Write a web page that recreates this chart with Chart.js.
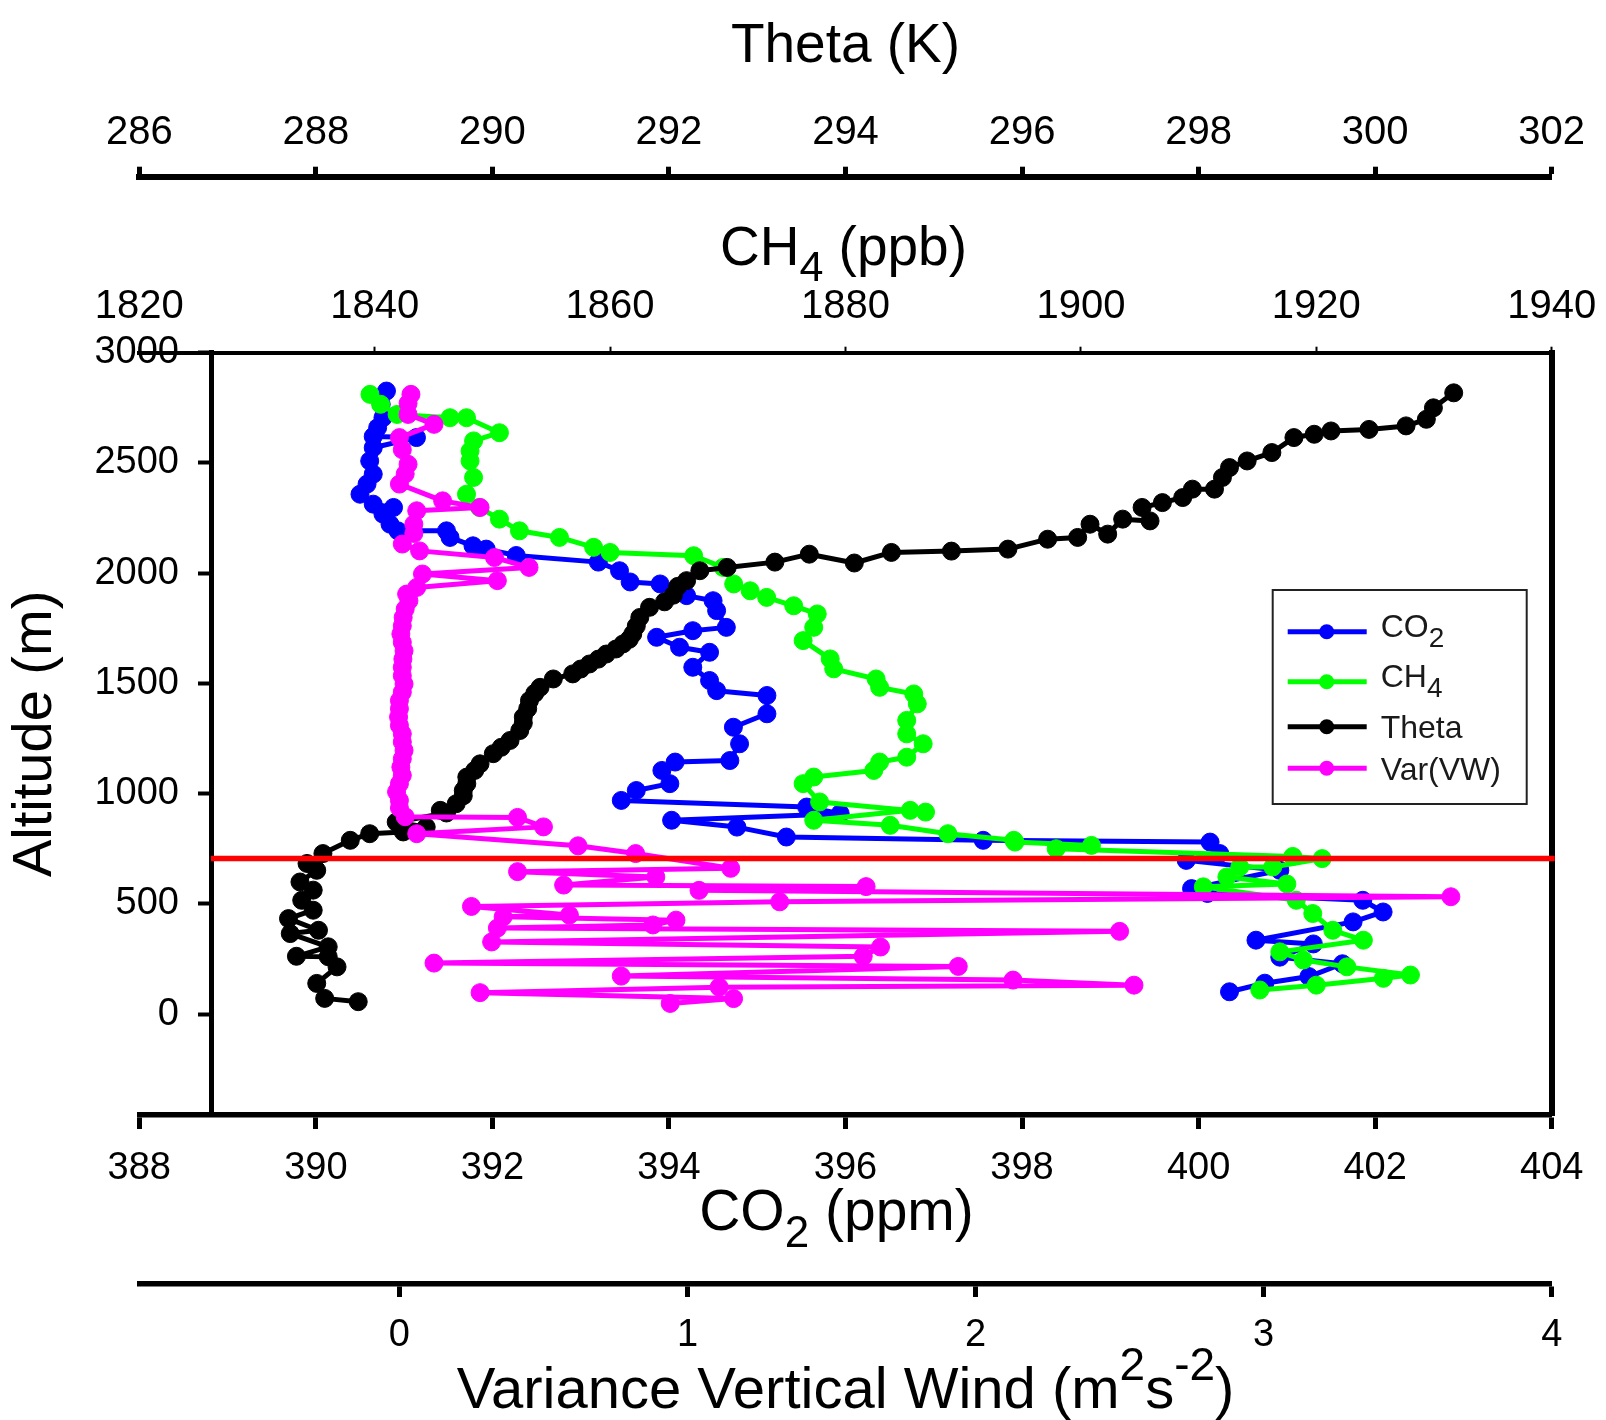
<!DOCTYPE html>
<html><head><meta charset="utf-8">
<script src="https://cdn.jsdelivr.net/npm/chart.js@4.4.1/dist/chart.umd.min.js"></script>
<style>html,body{margin:0;padding:0;background:#fff}canvas{display:block}</style>
</head><body>
<canvas id="c" width="1606" height="1420"></canvas>
<script>
// ---------------- data ----------------
const CO2_PPM = [400.35,400.75,401.25,401.63,400.92,401.30,400.65,401.75,402.09,401.86,400.10,399.92,400.92,399.86,400.24,400.13,397.56,395.33,394.77,394.03,395.94,395.56,393.46,393.63,394.01,393.92,394.07,394.69,394.80,394.73,395.11,395.11,394.54,394.46,394.27,394.46,394.12,393.86,394.27,394.65,394.54,394.50,394.20,393.90,393.56,393.44,393.20,392.27,391.93,391.78,391.52,391.48,390.93,390.84,390.76,390.88,390.65,390.50,390.58,390.65,390.61,390.65,391.14,390.65,390.70,390.76,390.74,390.80];
const CO2_ALT = [101,140,170,228,258,318,335,418,463,516,547,569,652,697,728,780,788,803,848,879,909,939,969,1014,1045,1105,1143,1150,1226,1301,1362,1445,1467,1513,1573,1641,1664,1709,1739,1754,1830,1875,1898,1951,1960,2011,2050,2080,2109,2124,2162,2192,2192,2222,2268,2298,2313,2358,2404,2449,2509,2569,2615,2620,2660,2705,2766,2826];

const CH4_PPB = [1915.2,1920.0,1925.7,1928.0,1922.6,1918.9,1916.9,1924.0,1921.4,1919.7,1918.3,1910.4,1917.5,1912.4,1913.5,1916.3,1920.5,1918.0,1897.9,1900.9,1894.4,1894.3,1888.7,1883.8,1877.3,1885.5,1886.8,1877.8,1876.4,1877.3,1882.4,1882.9,1885.2,1886.6,1885.2,1885.2,1886.1,1885.8,1882.9,1882.6,1879.0,1878.7,1876.4,1877.3,1877.6,1875.6,1873.3,1871.9,1870.5,1869.6,1867.1,1860.0,1858.6,1855.7,1852.3,1850.6,1848.9,1847.8,1848.4,1848.1,1848.1,1848.4,1850.6,1847.8,1846.4,1841.9,1840.5,1839.6];
const CH4_ALT = [109,131,162,177,214,245,282,335,380,456,516,577,590,622,667,667,705,715,750,765,780,788,818,856,879,924,916,962,1045,1075,1105,1143,1165,1226,1271,1332,1407,1452,1482,1520,1566,1611,1694,1754,1815,1852,1890,1920,1951,2026,2079,2094,2117,2162,2192,2245,2298,2358,2434,2509,2554,2600,2637,2705,2705,2720,2766,2811];

const THETA_K = [288.48,288.10,288.01,288.24,288.14,287.78,288.14,287.71,288.03,287.69,287.97,287.84,287.97,287.82,288.01,287.90,288.08,288.39,288.61,288.99,289.25,288.91,289.48,289.41,289.59,289.67,289.67,289.71,289.71,289.80,289.86,290.01,290.10,290.20,290.31,290.35,290.35,290.40,290.42,290.48,290.54,290.69,290.91,291.00,291.10,291.20,291.29,291.40,291.48,291.55,291.59,291.63,291.67,291.78,291.95,292.05,292.10,292.20,292.35,292.66,293.20,293.59,294.10,294.52,295.20,295.84,296.29,296.63,296.77,296.97,297.14,297.45,297.36,297.59,297.82,297.93,298.18,298.27,298.35,298.55,298.83,299.08,299.31,299.50,299.93,300.35,300.58,300.66,300.89];
const THETA_ALT = [56,71,139,214,260,262,305,365,380,433,471,516,562,599,652,683,728,788,818,826,848,871,912,924,954,990,1014,1045,1075,1105,1135,1181,1210,1241,1286,1320,1347,1385,1422,1455,1482,1520,1543,1565,1588,1610,1633,1656,1679,1700,1724,1760,1799,1845,1870,1900,1940,1966,2011,2026,2050,2086,2046,2094,2100,2109,2154,2162,2222,2177,2245,2237,2298,2320,2343,2381,2381,2434,2479,2509,2547,2615,2630,2645,2652,2668,2698,2750,2818];

const VAR_W = [0.94,1.16,0.28,1.11,2.55,2.13,0.77,1.94,0.12,1.61,1.67,0.32,2.50,0.34,0.88,0.96,0.36,0.59,0.25,1.32,3.65,1.04,1.62,0.57,0.89,0.41,1.15,0.82,0.62,0.06,0.50,0.41,0.02,
  0.00,0.00,-0.01,0.00,0.01,0.005,0.01,0.016,0.01,0.01,0.0,-0.003,0.0,0.0,0.01,0.016,0.01,0.01,0.012,0.016,0.01,0.005,0.01,0.013,0.02,0.033,
  0.025,0.06,0.34,0.08,0.45,0.33,0.07,0.01,0.05,0.05,0.06,0.28,0.15,0.0,0.02,0.03,0.01,0.0,0.12,0.03,0.03,0.04];
const VAR_ALT = [48,70,97,122,131,154,172,216,231,262,304,327,375,390,404,426,441,449,488,509,532,561,578,585,622,646,661,728,763,818,849,892,895,
  935,969,1008,1045,1083,1120,1158,1196,1234,1271,1309,1347,1385,1422,1460,1497,1535,1573,1610,1648,1686,1724,1761,1799,1837,1875,
  1905,1935,1966,1996,2026,2071,2101,2132,2180,2222,2283,2298,2328,2404,2450,2494,2560,2615,2675,2720,2770,2811];

const BOUNDARY_ALT = 705;

const CO2_TICKS = [388,390,392,394,396,398,400,402,404];
const CH4_TICKS = [1820,1840,1860,1880,1900,1920,1940];
const THETA_TICKS = [286,288,290,292,294,296,298,300,302];
const VAR_TICKS = [0,1,2,3,4];
const ALT_TICKS = [0,500,1000,1500,2000,2500,3000];

const CO2_RANGE = [388, 404];
const CH4_RANGE = [1820, 1940];
const THETA_RANGE = [286, 302];
const VAR_RANGE = [-0.903, 4];
const ALT_RANGE = [-458, 3000];

const SERIES_LABELS = ['CO2', 'CH4', 'Theta', 'Var(VW)'];
const LEGEND_MAIN = ['CO', 'CH', 'Theta', 'Var(VW)'];
const LEGEND_SUB = ['2', '4', '', ''];

// ---------------- styling ----------------
const FONT = '"Liberation Sans", Arial, Helvetica, sans-serif';
const COLORS = ['#0000ff', '#00ff00', '#000000', '#ff00ff'];
const AXIS_LEFT = 139.3;

Chart.defaults.font.family = FONT;
Chart.defaults.color = '#000';

const pts = (xs, ys) => xs.map((x, i) => ({x: x, y: ys[i]}));
const fixedTicks = list => s => { s.ticks = list.map(v => ({value: v})); };

function hAxis(pos, weight, range, ticks, h, tickLen, tickW, borderW, fontSize, pad) {
  return {
    type: 'linear', position: pos, weight: weight, min: range[0], max: range[1],
    afterBuildTicks: fixedTicks(ticks),
    afterFit: s => { s.height = h; s.paddingLeft = 0; s.paddingRight = 0; },
    grid: { display: true, drawOnChartArea: false, drawTicks: true, tickLength: tickLen, tickWidth: tickW, tickColor: '#000', color: '#000' },
    border: { display: true, color: '#000', width: borderW },
    ticks: { color: '#000', font: { family: FONT, size: fontSize }, padding: pad, maxRotation: 0, minRotation: 0, autoSkip: false, callback: v => String(v) }
  };
}

function series(i, xs, ys, axis, order) {
  return {
    label: SERIES_LABELS[i], data: pts(xs, ys), xAxisID: axis, yAxisID: 'y',
    showLine: true, borderColor: COLORS[i], backgroundColor: COLORS[i],
    pointBackgroundColor: COLORS[i], pointBorderColor: COLORS[i],
    pointRadius: 9, pointBorderWidth: 1, borderWidth: 5, tension: 0,
    borderJoinStyle: 'round', borderCapStyle: 'round', order: order, clip: false
  };
}

function drawRich(ctx, parts, cx, baseline) {
  let total = 0;
  parts.forEach(p => { ctx.font = p.size + 'px ' + FONT; p.w = ctx.measureText(p.t).width; total += p.w; });
  let x = cx - total / 2;
  ctx.textAlign = 'left'; ctx.textBaseline = 'alphabetic';
  parts.forEach(p => { ctx.font = p.size + 'px ' + FONT; ctx.fillText(p.t, x, baseline + p.dy); x += p.w; });
}

const stretchAxes = {
  id: 'stretchAxes',
  afterLayout(chart) {
    ['x', 'xVar', 'xCH4', 'xTheta'].forEach(id => {
      const s = chart.scales[id];
      s.left = AXIS_LEFT;
      s.width = s.right - s.left;
      s.configure();
    });
  }
};

const boundaryLine = {
  id: 'boundaryLine',
  afterDatasetsDraw(chart) {
    const ctx = chart.ctx, ca = chart.chartArea;
    const y = chart.scales.y.getPixelForValue(BOUNDARY_ALT);
    ctx.save();
    ctx.strokeStyle = '#ff0000'; ctx.lineWidth = 5.5;
    ctx.beginPath(); ctx.moveTo(ca.left, y); ctx.lineTo(ca.right + 3, y); ctx.stroke();
    ctx.restore();
  }
};

const titlesAndLegend = {
  id: 'titlesAndLegend',
  afterDraw(chart) {
    const ctx = chart.ctx, sc = chart.scales, ca = chart.chartArea;
    ctx.save();
    ctx.fillStyle = '#000';
    const cx = s => (s.left + s.right) / 2;
    drawRich(ctx, [{t: 'CH', size: 55, dy: 0}, {t: '4', size: 43, dy: 16}, {t: ' (ppb)', size: 55, dy: 0}], cx(sc.xCH4) - 2, sc.xCH4.top + 88.3);
    drawRich(ctx, [{t: 'CO', size: 57, dy: 0}, {t: '2', size: 44, dy: 17}, {t: ' (ppm)', size: 57, dy: 0}], cx(sc.x) - 9, sc.x.top + 115);
    drawRich(ctx, [{t: 'Variance Vertical Wind (m', size: 58, dy: 0}, {t: '2', size: 46, dy: -28}, {t: 's', size: 58, dy: 0}, {t: '-2', size: 46, dy: -28}, {t: ')', size: 58, dy: 0}], cx(sc.xVar), sc.xVar.top + 124);

    // legend
    const bx = ca.right - 279, by = ca.top + 237.3, bw = 254, bh = 214;
    ctx.strokeStyle = '#222'; ctx.lineWidth = 2;
    ctx.strokeRect(bx, by, bw, bh);
    const rowY = [41.7, 91.7, 136.7, 178.3];
    const baseY = [46.7, 96.7, 148.3, 190];
    chart.data.datasets.slice(0, 4).forEach((ds, i) => {
      const y = by + rowY[i];
      ctx.strokeStyle = ds.borderColor; ctx.lineWidth = 5;
      ctx.beginPath(); ctx.moveTo(bx + 15, y); ctx.lineTo(bx + 94, y); ctx.stroke();
      ctx.fillStyle = ds.borderColor;
      ctx.beginPath(); ctx.arc(bx + 54, y, 7.5, 0, Math.PI * 2); ctx.fill();
      ctx.fillStyle = '#1a1a1a';
      ctx.textAlign = 'left'; ctx.textBaseline = 'alphabetic';
      ctx.font = '32px ' + FONT;
      const tx = bx + 108, ty = by + baseY[i];
      ctx.fillText(LEGEND_MAIN[i], tx, ty);
      if (LEGEND_SUB[i]) {
        const w = ctx.measureText(LEGEND_MAIN[i]).width;
        ctx.font = '28px ' + FONT;
        ctx.fillText(LEGEND_SUB[i], tx + w, ty + 10);
      }
    });
    ctx.restore();
  }
};

new Chart(document.getElementById('c'), {
  type: 'scatter',
  data: {
    datasets: [
      series(0, CO2_PPM, CO2_ALT, 'x', 4),
      series(1, CH4_PPB, CH4_ALT, 'xCH4', 3),
      series(2, THETA_K, THETA_ALT, 'xTheta', 2),
      series(3, VAR_W, VAR_ALT, 'xVar', 1)
    ]
  },
  options: {
    responsive: false, animation: false, devicePixelRatio: 1,
    layout: { autoPadding: false, padding: { left: 0, right: 54.3, top: 0, bottom: 0 } },
    plugins: { legend: { display: false }, tooltip: { enabled: false }, title: { display: false } },
    scales: {
      x: hAxis('bottom', 0, CO2_RANGE, CO2_TICKS, 169, 14, 5, 5.5, 38, 16.5),
      xVar: hAxis('bottom', 1, VAR_RANGE, VAR_TICKS, 136, 13, 5, 5.5, 38, 16),
      xCH4: hAxis('top', 0, CH4_RANGE, CH4_TICKS, 176, 6, 2, 4, 40, 16),
      xTheta: Object.assign(hAxis('top', 1, THETA_RANGE, THETA_TICKS, 176.7, 10, 5, 6, 40, 9.7), {
        title: { display: true, text: 'Theta (K)', color: '#000', font: { family: FONT, size: 55 }, padding: { top: 13.4, bottom: 0 } }
      }),
      y: {
        type: 'linear', position: 'left', min: ALT_RANGE[0], max: ALT_RANGE[1],
        afterBuildTicks: fixedTicks(ALT_TICKS),
        afterFit: s => { s.width = 211; s.paddingTop = 0; s.paddingBottom = 0; },
        grid: { display: true, drawOnChartArea: false, drawTicks: true, tickLength: 13, tickWidth: 4, tickColor: '#000', color: '#000' },
        border: { display: true, color: '#000', width: 5 },
        ticks: { color: '#000', font: { family: FONT, size: 38 }, padding: 19, autoSkip: false, callback: v => String(v) },
        title: { display: true, text: 'Altitude (m)', color: '#000', font: { family: FONT, size: 56 }, padding: { top: 2, bottom: 0 } }
      },
      yRight: {
        type: 'linear', position: 'right', min: ALT_RANGE[0], max: ALT_RANGE[1],
        afterFit: s => { s.width = 0; },
        ticks: { display: false },
        grid: { display: true, drawOnChartArea: false, drawTicks: false },
        border: { display: true, color: '#000', width: 6 }
      }
    }
  },
  plugins: [stretchAxes, boundaryLine, titlesAndLegend]
});
</script>
</body></html>
